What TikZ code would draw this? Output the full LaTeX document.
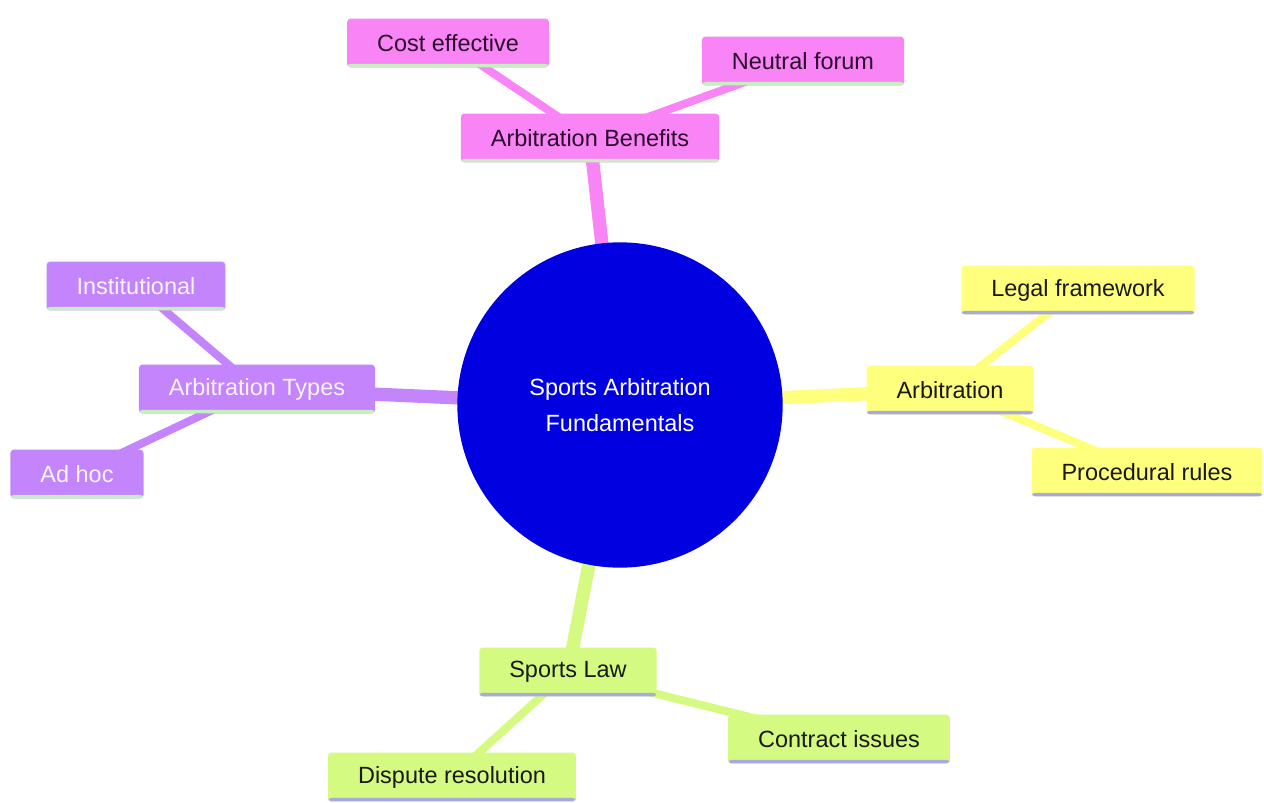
\documentclass[tikz,border=0pt]{standalone}
\usepackage{fontspec}
\setmainfont{Liberation Sans}
\usetikzlibrary{backgrounds}
\definecolor{pk}{HTML}{F984F5}
\definecolor{pu}{HTML}{C384FC}
\definecolor{ye}{HTML}{FFFF7E}
\definecolor{gr}{HTML}{D4FA82}
\definecolor{bl}{HTML}{0000E0}
\definecolor{lgline}{HTML}{C6EFC0}
\definecolor{lvline}{HTML}{A9A9E2}
\definecolor{pktxt}{HTML}{2A0A2A}
\definecolor{putxt}{HTML}{FAF4FF}
\begin{document}
\begin{tikzpicture}[x=0.75pt,y=-0.75pt,
  mm/.style={rectangle, rounded corners=2.5pt, inner xsep=22.5pt, inner ysep=0pt,
    minimum height=36.5pt, font=\fontsize{17.6}{21}\selectfont},
  uline/.style={path picture={\fill[#1] ([yshift=2.6pt]path picture bounding box.south west) rectangle (path picture bounding box.south east);}},
  pknode/.style={mm, fill=pk, text=pktxt, uline=lgline},
  punode/.style={mm, fill=pu, text=putxt, uline=lgline},
  yenode/.style={mm, fill=ye, text=black!90, uline=lvline},
  grnode/.style={mm, fill=gr, text=black!90, uline=lvline},
  mainedge/.style={line width=10pt},
  subedge/.style={line width=6pt}
]
\useasboundingbox (0,0) rectangle (1264,803);

\node[circle, fill=bl, minimum size=244pt, inner sep=0pt, text=white, align=center,
  font=\fontsize{17.6}{27}\selectfont] (root) at (620,405) {Sports Arbitration\\Fundamentals};

\node[pknode] (ben) at (590,138) {Arbitration Benefits};
\node[pknode] (cost) at (448,43) {Cost effective};
\node[pknode] (neutral) at (803,61) {Neutral forum};

\node[punode] (types) at (257,389) {Arbitration Types};
\node[punode] (inst) at (136,286) {Institutional};
\node[punode] (adhoc) at (77,474) {Ad hoc};

\node[yenode] (arb) at (950,390) {Arbitration};
\node[yenode] (legal) at (1078,290) {Legal framework};
\node[yenode] (proc) at (1147,472) {Procedural rules};

\node[grnode] (slaw) at (568,672) {Sports Law};
\node[grnode] (contract) at (839,739) {Contract issues};
\node[grnode] (dispute) at (452,777) {Dispute resolution};

\begin{scope}[on background layer]
\draw[pk, mainedge] (root.center) -- (ben.center);
\draw[pk, subedge] (ben.center) -- (cost.center);
\draw[pk, subedge] (ben.center) -- (neutral.center);
\draw[pu, mainedge] (root.center) -- (types.center);
\draw[pu, subedge] (types.center) -- (inst.center);
\draw[pu, subedge] (types.center) -- (adhoc.center);
\draw[ye, mainedge] (root.center) -- (arb.center);
\draw[ye, subedge] (arb.center) -- (legal.center);
\draw[ye, subedge] (arb.center) -- (proc.center);
\draw[gr, mainedge] (root.center) -- (slaw.center);
\draw[gr, subedge] (slaw.center) -- (contract.center);
\draw[gr, subedge] (slaw.center) -- (dispute.center);
\end{scope}
\end{tikzpicture}
\end{document}
